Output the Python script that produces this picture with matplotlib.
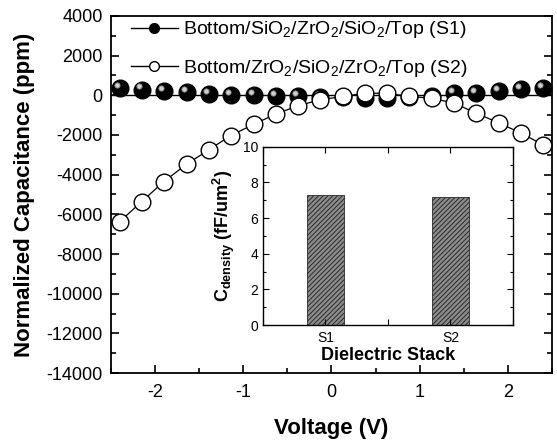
import matplotlib
matplotlib.use('Agg')
import matplotlib.pyplot as plt
import matplotlib.transforms as mtransforms
from matplotlib.lines import Line2D
from matplotlib.ticker import MultipleLocator, FuncFormatter

# data
voltage = [-2.40, -2.15, -1.90, -1.64, -1.39, -1.14, -0.88, -0.63, -0.38, -0.13,
           0.13, 0.38, 0.63, 0.88, 1.14, 1.39, 1.64, 1.90, 2.15, 2.40]
cap_s1 = [370, 290, 200, 150, 80, 30, -10, -60, -20, -80,
          -100, -120, -120, -100, -60, 100, 110, 230, 300, 360]
cap_s2 = [-6370, -5360, -4350, -3470, -2750, -2030, -1460, -950, -530, -230,
          -60, 100, 100, -60, -150, -400, -900, -1400, -1910, -2500]

stacks = ['S1', 'S2']
stack_pos = [1, 2]
c_density = [7.28, 7.18]

label_s1 = 'Bottom/SiO$_2$/ZrO$_2$/SiO$_2$/Top (S1)'
label_s2 = 'Bottom/ZrO$_2$/SiO$_2$/ZrO$_2$/Top (S2)'

plt.rcParams['font.family'] = ['Liberation Sans', 'DejaVu Sans']
plt.rcParams['mathtext.fontset'] = 'custom'
plt.rcParams['mathtext.rm'] = 'Liberation Sans'
plt.rcParams['mathtext.it'] = 'Liberation Sans:italic'
plt.rcParams['mathtext.bf'] = 'Liberation Sans:bold'
plt.rcParams['axes.unicode_minus'] = False
plt.rcParams['hatch.linewidth'] = 0.7

fig = plt.figure(figsize=(5.57, 4.41), dpi=100, facecolor='white')
ax = fig.add_axes([0.199, 0.154, 0.792, 0.81])

# S1 line sits on zero in the original
ax.axhline(0, color='black', lw=1.0, zorder=1)
ax.plot(voltage, cap_s2, color='black', lw=0.9, zorder=2)
ax.plot(voltage, cap_s1, linestyle='none', marker='o', markersize=12,
        markerfacecolor='black', markeredgecolor='black', zorder=3)
# sphere highlight
hl = mtransforms.offset_copy(ax.transData, fig=fig, x=-2.2, y=2.2, units='points')
ax.plot(voltage, cap_s1, linestyle='none', marker='o', markersize=3.8,
        markerfacecolor='#d0d0d0', markeredgecolor='#808080', markeredgewidth=0.6,
        transform=hl, zorder=4)
ax.plot(voltage, cap_s2, linestyle='none', marker='o', markersize=12,
        markerfacecolor='white', markeredgecolor='black', markeredgewidth=1.0, zorder=5)

ax.set_xlim(-2.5, 2.5)
ax.set_ylim(-14000, 4000)
ax.xaxis.set_major_locator(MultipleLocator(1))
ax.xaxis.set_minor_locator(MultipleLocator(0.5))
ax.yaxis.set_major_locator(MultipleLocator(2000))
ax.yaxis.set_minor_locator(MultipleLocator(1000))
ax.xaxis.set_major_formatter(FuncFormatter(lambda v, p: '%d' % v))
ax.yaxis.set_major_formatter(FuncFormatter(lambda v, p: '%d' % v))
ax.tick_params(which='both', direction='in', right=True, top=False, labelsize=13, width=1.2)
ax.tick_params(which='major', length=6)
ax.tick_params(which='minor', length=3.5)
ax.tick_params(axis='y', pad=6)
ax.tick_params(axis='x', pad=8)
for s in ax.spines.values():
    s.set_linewidth(1.3)

ax.set_xlabel('Voltage (V)', fontsize=16, fontweight='bold', labelpad=12)
ax.set_ylabel('Normalized Capacitance (ppm)', fontsize=16, fontweight='bold', labelpad=8)

handles = [Line2D([], [], color='black', lw=1, marker='o', markersize=7,
                  markerfacecolor='black', markeredgecolor='black'),
           Line2D([], [], color='black', lw=1, marker='o', markersize=7,
                  markerfacecolor='white', markeredgecolor='black')]
ax.legend(handles, [label_s1, label_s2], loc='upper left', frameon=False,
          fontsize=14, handlelength=2.4, handletextpad=0.25, labelspacing=0.9,
          borderaxespad=0.0, bbox_to_anchor=(0.028, 1.012))

# inset bar chart
ins = fig.add_axes([0.472, 0.263, 0.449, 0.404])
ins.set_facecolor('white')
ins.set_zorder(10)
ins.bar(stack_pos, c_density, width=0.3, color='#8c8c8c', edgecolor='#2a2a2a',
        hatch='///////', lw=0.6)
ins.set_xlim(0.5, 2.5)
ins.set_ylim(0, 10)
ins.set_xticks(stack_pos)
ins.set_xticklabels(stacks)
ins.xaxis.set_minor_locator(MultipleLocator(0.5))
ins.yaxis.set_major_locator(MultipleLocator(2))
ins.yaxis.set_minor_locator(MultipleLocator(1))
ins.tick_params(which='both', direction='in', top=True, right=True, labelsize=10, width=0.8)
ins.tick_params(which='major', length=4)
ins.tick_params(which='minor', length=2.5)
ins.tick_params(axis='x', which='minor', length=4)
ins.tick_params(axis='x', pad=4)
for s in ins.spines.values():
    s.set_linewidth(1.0)
ins.set_xlabel('Dielectric Stack', fontsize=13, fontweight='bold', labelpad=2)
ins.set_ylabel(r'C$_{\mathbf{density}}$ (fF/um$^{\mathbf{2}}$)', fontsize=13,
               fontweight='bold', labelpad=4)

fig.savefig('out.png', dpi=100)
